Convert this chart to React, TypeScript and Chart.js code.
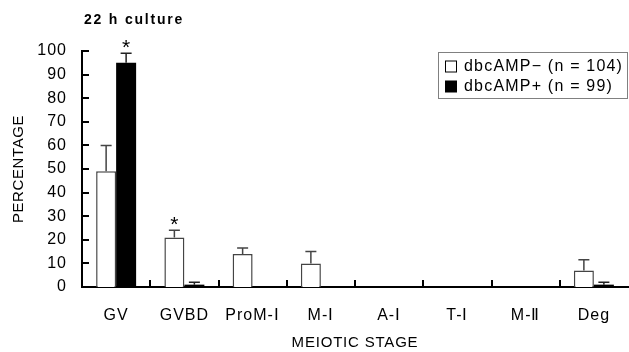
import React, { useEffect, useRef } from "react";
import { Chart, registerables } from "chart.js";

Chart.register(...registerables);

const categories = ["GV", "GVBD", "ProM-Ⅰ", "M-Ⅰ", "A-Ⅰ", "T-Ⅰ", "M-Ⅱ", "Deg"];
const minusLabel = "dbcAMP− (n = 104)";
const plusLabel = "dbcAMP+ (n = 99)";
const minusValues = [49, 21, 14, 10, 0, 0, 0, 7];
const minusErrors = [11, 3, 2.5, 5, 0, 0, 0, 4.5];
const plusValues = [95, 1, 0, 0, 0, 0, 0, 1];
const plusErrors = [4, 1, 0, 0, 0, 0, 0, 1];
const minusSig = [false, true, false, false, false, false, false, false];
const plusSig = [true, false, false, false, false, false, false, false];
const yTickValues = [0, 10, 20, 30, 40, 50, 60, 70, 80, 90, 100];
const titleText = "22 h culture";
const yTitle = "PERCENTAGE";
const xTitle = "MEIOTIC STAGE";

const FONT = "'Liberation Sans', Arial, sans-serif";

const decorPlugin = {
  id: "decor",
  afterDatasetsDraw(chart: any) {
    const ctx = chart.ctx;
    const xs = chart.scales.x;
    const ys = chart.scales.y;
    const area = chart.chartArea;
    const errs = [minusErrors, plusErrors];
    const vals = [minusValues, plusValues];
    const sigs = [minusSig, plusSig];
    ctx.save();
    (ctx as any).letterSpacing = "0px";
    // error bars
    for (let d = 0; d < 2; d++) {
      const meta = chart.getDatasetMeta(d);
      meta.data.forEach((bar: any, i: number) => {
        const e = errs[d][i];
        const v = vals[d][i];
        let topY = bar.y;
        if (e > 0) {
          topY = ys.getPixelForValue(v + e);
          ctx.strokeStyle = d === 0 ? "#444" : "#222";
          ctx.lineWidth = 1.5;
          ctx.beginPath();
          ctx.moveTo(bar.x, bar.y);
          ctx.lineTo(bar.x, topY);
          ctx.moveTo(bar.x - 5.5, topY);
          ctx.lineTo(bar.x + 5.5, topY);
          ctx.stroke();
        }
        if (sigs[d][i]) {
          ctx.fillStyle = "#000";
          ctx.font = `21px ${FONT}`;
          ctx.textAlign = "center";
          ctx.textBaseline = "alphabetic";
          ctx.fillText("*", bar.x, topY + 1);
        }
      });
    }
    // inward ticks
    ctx.strokeStyle = "#000";
    ctx.lineWidth = 2;
    ctx.beginPath();
    yTickValues.forEach((v) => {
      const y = Math.round(ys.getPixelForValue(v));
      ctx.moveTo(area.left, y);
      ctx.lineTo(area.left + 7, y);
    });
    for (let i = 0; i < categories.length - 1; i++) {
      const x = Math.round((xs.getPixelForValue(i) + xs.getPixelForValue(i + 1)) / 2);
      ctx.moveTo(x, area.bottom);
      ctx.lineTo(x, area.bottom - 7);
    }
    ctx.stroke();

    // title
    ctx.fillStyle = "#000";
    ctx.font = `bold 14px ${FONT}`;
    (ctx as any).letterSpacing = "1.8px";
    ctx.textAlign = "left";
    ctx.textBaseline = "middle";
    ctx.fillText(titleText, 84, 20);

    // axis titles
    ctx.font = `15px ${FONT}`;
    (ctx as any).letterSpacing = "0.8px";
    ctx.textAlign = "center";
    ctx.fillText(xTitle, (area.left + area.right) / 2, 343);
    (ctx as any).letterSpacing = "0.6px";
    ctx.save();
    ctx.translate(19, (area.top + area.bottom) / 2);
    ctx.rotate(-Math.PI / 2);
    ctx.fillText(yTitle, 0, 0);
    ctx.restore();

    // legend
    const lx = 438.5, ly = 52.5, lw = 189, lh = 46;
    ctx.fillStyle = "#fff";
    ctx.fillRect(lx, ly, lw, lh);
    ctx.strokeStyle = "#808080";
    ctx.lineWidth = 1;
    ctx.strokeRect(lx, ly, lw, lh);
    const items = [
      { label: minusLabel, fill: "#fff" },
      { label: plusLabel, fill: "#000" },
    ];
    (ctx as any).letterSpacing = "1.2px";
    items.forEach((it, k) => {
      const cy = 67 + k * 20;
      ctx.fillStyle = it.fill;
      ctx.fillRect(445.5, cy - 6, 11, 11);
      ctx.strokeStyle = "#000";
      ctx.lineWidth = 1;
      ctx.strokeRect(445.5, cy - 6, 11, 11);
      ctx.fillStyle = "#000";
      ctx.font = `16px ${FONT}`;
      ctx.textAlign = "left";
      ctx.textBaseline = "middle";
      ctx.fillText(it.label, 464, cy);
    });
    (ctx as any).letterSpacing = "0px";
    ctx.restore();
  },
};

const labelSpacing = {
  id: "labelSpacing",
  beforeDraw(chart: any) {
    (chart.ctx as any).letterSpacing = "1px";
  },
};

export default function App() {
  const ref = useRef<HTMLCanvasElement>(null);
  useEffect(() => {
    document.body.style.margin = "0";
    const chart = new Chart(ref.current as HTMLCanvasElement, {
      type: "bar",
      data: {
        labels: categories,
        datasets: [
          {
            label: minusLabel,
            data: minusValues,
            backgroundColor: "#fff",
            borderColor: "#444",
            borderWidth: 1.5,
            barPercentage: 1,
            categoryPercentage: 0.586,
          },
          {
            label: plusLabel,
            data: plusValues,
            backgroundColor: "#000",
            borderColor: "#000",
            borderWidth: 0,
            barPercentage: 1,
            categoryPercentage: 0.586,
          },
        ],
      },
      options: {
        responsive: false,
        animation: false,
        layout: { padding: { top: 51, left: 0, right: 1, bottom: 0 } },
        plugins: { legend: { display: false }, tooltip: { enabled: false }, title: { display: false } },
        scales: {
          x: {
            grid: { display: false, drawTicks: false },
            border: { display: true, color: "#000", width: 2 },
            ticks: { color: "#000", font: { family: FONT, size: 16 }, padding: 19, maxRotation: 0 },
            afterFit: (s: any) => {
              s.height = 65;
            },
          },
          y: {
            min: 0,
            max: 100,
            grid: { display: false, drawTicks: false },
            border: { display: true, color: "#000", width: 2 },
            ticks: { stepSize: 10, color: "#000", font: { family: FONT, size: 16 }, padding: 15 },
            afterFit: (s: any) => {
              s.width = 82;
            },
          },
        },
      },
      plugins: [labelSpacing, decorPlugin],
    });
    return () => chart.destroy();
  }, []);
  return (
    <div style={{ width: 629, height: 352 }}>
      <canvas ref={ref} width={629} height={352} style={{ display: "block" }} />
    </div>
  );
}
